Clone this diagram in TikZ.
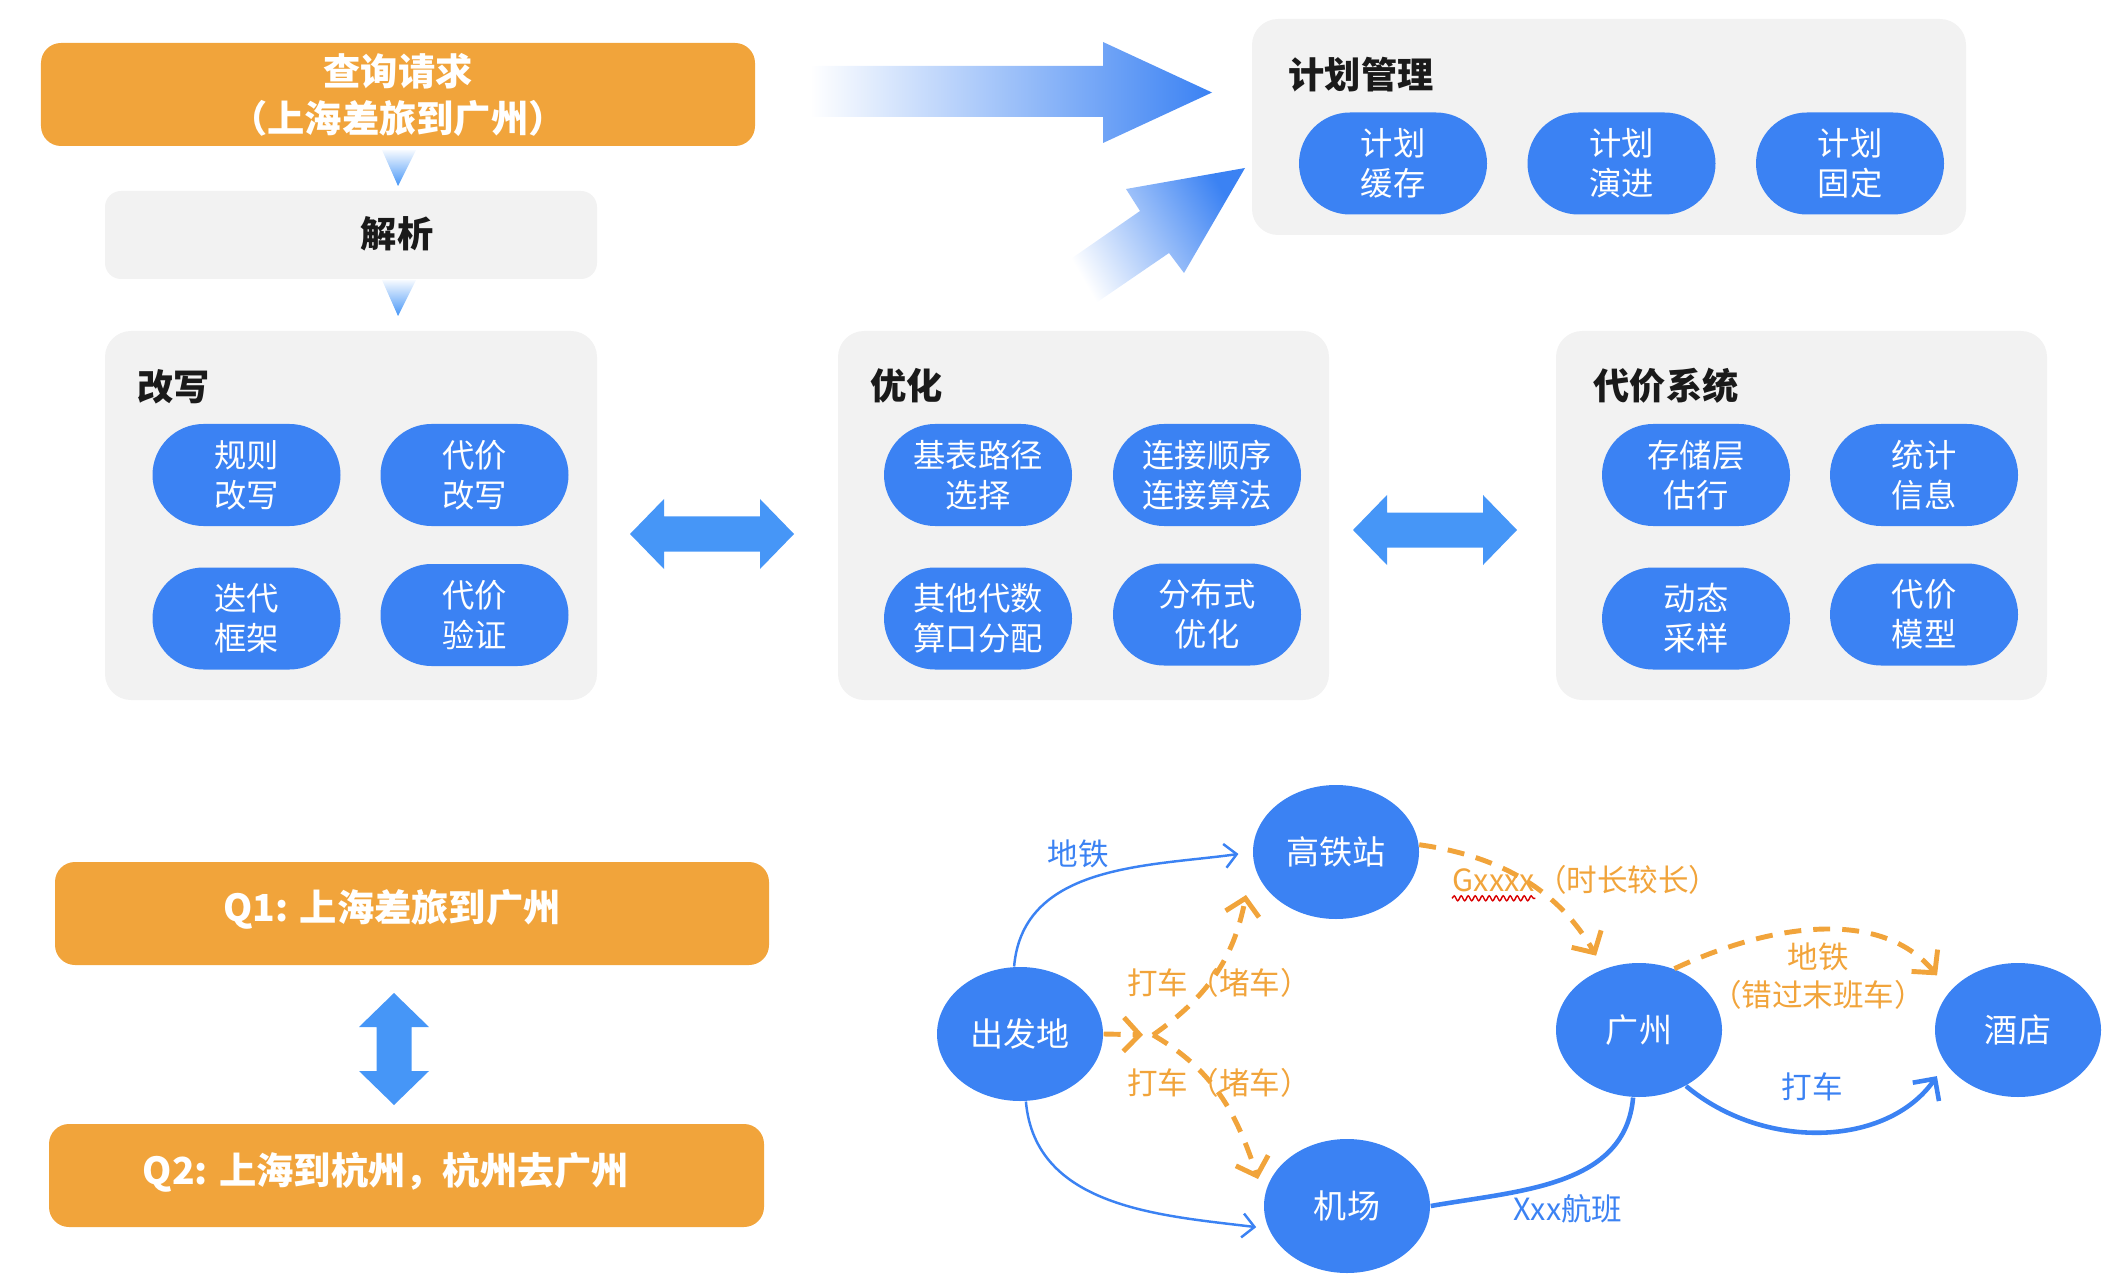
\documentclass[tikz,border=0pt]{standalone}
\usepackage{fontspec}
\setmainfont{Noto Sans CJK SC}
\usetikzlibrary{arrows.meta,positioning,shapes.geometric,shapes.misc,decorations.pathmorphing}
\definecolor{tangerine}{RGB}{241,164,59}
\definecolor{azure}{RGB}{59,130,243}
\definecolor{sky}{RGB}{70,150,247}
\definecolor{mist}{RGB}{242,242,242}
\definecolor{ink}{RGB}{26,26,26}
\tikzset{
  >={Straight Barb[length=1.2mm,width=2.4mm]},
  panel/.style={fill=mist,rounded corners=2.6mm,inner sep=0pt},
  banner/.style={fill=tangerine,rounded corners=2mm,inner sep=0pt},
  bannertext/.style={text=white,align=center,inner sep=0pt,font=\fontsize{10.6}{13.1}\selectfont\bfseries},
  heading/.style={anchor=west,text=ink,inner sep=0pt,font=\fontsize{10.3}{12}\selectfont\bfseries},
  pill/.style={rounded rectangle,fill=azure,text=white,minimum width=18.8mm,minimum height=10.2mm,
    inner sep=0pt,align=center,font=\fontsize{9.2}{11.4}\selectfont},
  place/.style={ellipse,fill=azure,text=white,minimum width=16.6mm,minimum height=13.4mm,
    inner sep=0pt,font=\fontsize{9.4}{11}\selectfont},
  route/.style={draw=azure,line width=#1},
  route/.default=0.7pt,
  detour/.style={draw=tangerine,line width=1.4pt,dash pattern=on 1.7mm off 1.2mm,
    -{Straight Barb[length=1.6mm,width=3.4mm]}},
  tag/.style={font=\fontsize{8.7}{10.8}\selectfont,align=center,inner sep=0pt},
  % two-headed block arrow, #1 = half length
  pics/twoway/.style={code={
    \fill[sky] (-#1,0) -- (-#1+0.34,0.35) -- (-#1+0.34,0.175) -- (#1-0.34,0.175) -- (#1-0.34,0.35)
      -- (#1,0) -- (#1-0.34,-0.35) -- (#1-0.34,-0.175) -- (-#1+0.34,-0.175) -- (-#1+0.34,-0.35) -- cycle;
  }},
  pics/twoway/.default=0.82,
}

\begin{document}
\begin{tikzpicture}
  \useasboundingbox (0,0) rectangle (21.16,-12.88);

  % request and parsing
  \node[banner,minimum width=71.4mm,minimum height=10.3mm] (request) at (3.98,-0.945) {};
  \node[bannertext] (requesttext) at (3.98,-0.95) {查询请求\\（上海差旅到广州）};
  \shade[top color=sky!5,bottom color=sky] (3.82,-1.50) -- (4.16,-1.50) -- (3.98,-1.86) -- cycle;
  \node[panel,minimum width=49.2mm,minimum height=8.8mm,rounded corners=1.6mm] (parse) at (3.51,-2.35) {};
  \node[heading,anchor=center] (parsetext) at (3.97,-2.34) {解析};
  \shade[top color=sky!5,bottom color=sky] (3.82,-2.80) -- (4.16,-2.80) -- (3.98,-3.16) -- cycle;

  % gradient arrows towards plan management
  \shade[left color=white,right color=azure] (8.10,-0.66) -- (11.03,-0.66) -- (11.03,-0.42) -- (12.12,-0.925)
    -- (11.03,-1.43) -- (11.03,-1.17) -- (8.10,-1.17) -- cycle;
  \shade[top color=white,bottom color=azure,shading angle=120] (10.62,-2.65) -- (11.40,-2.11) -- (11.26,-1.89)
    -- (12.45,-1.68) -- (11.84,-2.73) -- (11.69,-2.53) -- (10.93,-3.05) -- cycle;

  % plan management
  \node[panel,minimum width=71.4mm,minimum height=21.6mm] (plan) at (16.09,-1.27) {};
  \node[heading] (plantitle) at (12.88,-0.75) {计划管理};
  \node[pill] (cache) at (13.93,-1.635) {计划\\缓存};
  \node[pill] (evolve) at (16.215,-1.635) {计划\\演进};
  \node[pill] (pin) at (18.50,-1.635) {计划\\固定};

  % rewrite
  \node[panel,minimum width=49.2mm,minimum height=36.9mm] (rewrite) at (3.51,-5.155) {};
  \node[heading] (rewritetitle) at (1.37,-3.87) {改写};
  \node[pill] (rulerw) at (2.465,-4.75) {规则\\改写};
  \node[pill] (costrw) at (4.745,-4.75) {代价\\改写};
  \node[pill] (iterate) at (2.465,-6.185) {迭代\\框架};
  \node[pill] (verify) at (4.745,-6.15) {代价\\验证};

  % optimize
  \node[panel,minimum width=49.1mm,minimum height=36.9mm] (optimize) at (10.835,-5.155) {};
  \node[heading] (optimizetitle) at (8.70,-3.86) {优化};
  \node[pill] (access) at (9.78,-4.75) {基表路径\\选择};
  \node[pill] (joins) at (12.07,-4.75) {连接顺序\\连接算法};
  \node[pill] (algebra) at (9.78,-6.185) {其他代数\\算口分配};
  \node[pill] (dist) at (12.07,-6.145) {分布式\\优化};

  % cost system
  \node[panel,minimum width=49.1mm,minimum height=36.9mm] (cost) at (18.015,-5.155) {};
  \node[heading] (costtitle) at (15.93,-3.86) {代价系统};
  \node[pill] (storage) at (16.96,-4.75) {存储层\\估行};
  \node[pill] (stats) at (19.24,-4.75) {统计\\信息};
  \node[pill] (sampling) at (16.96,-6.185) {动态\\采样};
  \node[pill] (model) at (19.24,-6.145) {代价\\模型};

  \pic at (7.12,-5.34) {twoway};
  \pic at (14.35,-5.30) {twoway};

  % equivalent queries
  \node[banner,minimum width=71.4mm,minimum height=10.3mm] (q1) at (4.12,-9.135) {};
  \node[bannertext] (q1text) at (3.92,-9.09) {Q1: 上海差旅到广州};
  \pic[rotate=90] at (3.94,-10.49) {twoway=0.56};
  \node[banner,minimum width=71.5mm,minimum height=10.3mm] (q2) at (4.065,-11.755) {};
  \node[bannertext] (q2text) at (3.86,-11.72) {Q2: 上海到杭州，杭州去广州};

  % travel graph
  \node[place] (origin) at (10.20,-10.34) {出发地};
  \node[place] (hsr) at (13.36,-8.52) {高铁站};
  \node[place] (airport) at (13.47,-12.06) {机场};
  \node[place] (gz) at (16.39,-10.30) {广州};
  \node[place] (hotel) at (20.18,-10.30) {酒店};
  \coordinate (fork) at (11.53,-10.35);
  \coordinate (hsrfoot) at (12.46,-8.95);
  \coordinate (aptfoot) at (12.58,-11.79);

  \draw[route,->,shorten >=1.4mm] (origin.95) to[out=85,in=188] (hsr.west);
  \draw[route,->,shorten >=1.2mm] (origin.-85) to[out=-85,in=173] (airport.196);
  \draw[route=1.3pt] (airport.east) to[out=10,in=-95] (gz.-95);
  \draw[route=1.3pt,-{Straight Barb[length=1.6mm,width=3.2mm]},shorten >=1.5mm] (gz.-50) to[out=-40,in=-125] (hotel.205);
  \draw[detour,shorten >=1.5mm] (hsr.5) to[out=-8,in=120] (gz.120);
  \draw[detour,shorten >=2mm] (gz.60) to[out=25,in=130] (hotel.150);
  \draw[detour,shorten >=1mm] (origin.east) -- (fork);
  \draw[detour] (fork) to[out=35,in=-101] (hsrfoot);
  \draw[detour] (fork) to[out=-30,in=108] (aptfoot);

  \node[tag,text=azure] (metro) at (10.78,-8.54) {地铁};
  \node[tag,text=tangerine] (taxiup) at (12.19,-9.83) {打车（堵车）};
  \node[tag,text=tangerine] (taxidown) at (12.19,-10.83) {打车（堵车）};
  \node[tag,text=tangerine,anchor=west] (trainno) at (14.52,-8.80) {Gxxxx};
  \node[tag,text=tangerine,base right=0pt of trainno] (trainnote) {（时长较长）};
  \draw[red!85!black,line width=0.4pt,decorate,decoration={snake,amplitude=0.25mm,segment length=0.7mm}]
    ([yshift=-0.6mm]trainno.south west) -- ([yshift=-0.6mm]trainno.south east);
  \node[tag,text=tangerine] (latemetro) at (18.18,-9.76) {地铁\\（错过末班车）};
  \node[tag,text=azure] (taxigz) at (18.12,-10.87) {打车};
  \node[tag,text=azure] (flight) at (15.68,-12.09) {Xxx航班};
\end{tikzpicture}
\end{document}
